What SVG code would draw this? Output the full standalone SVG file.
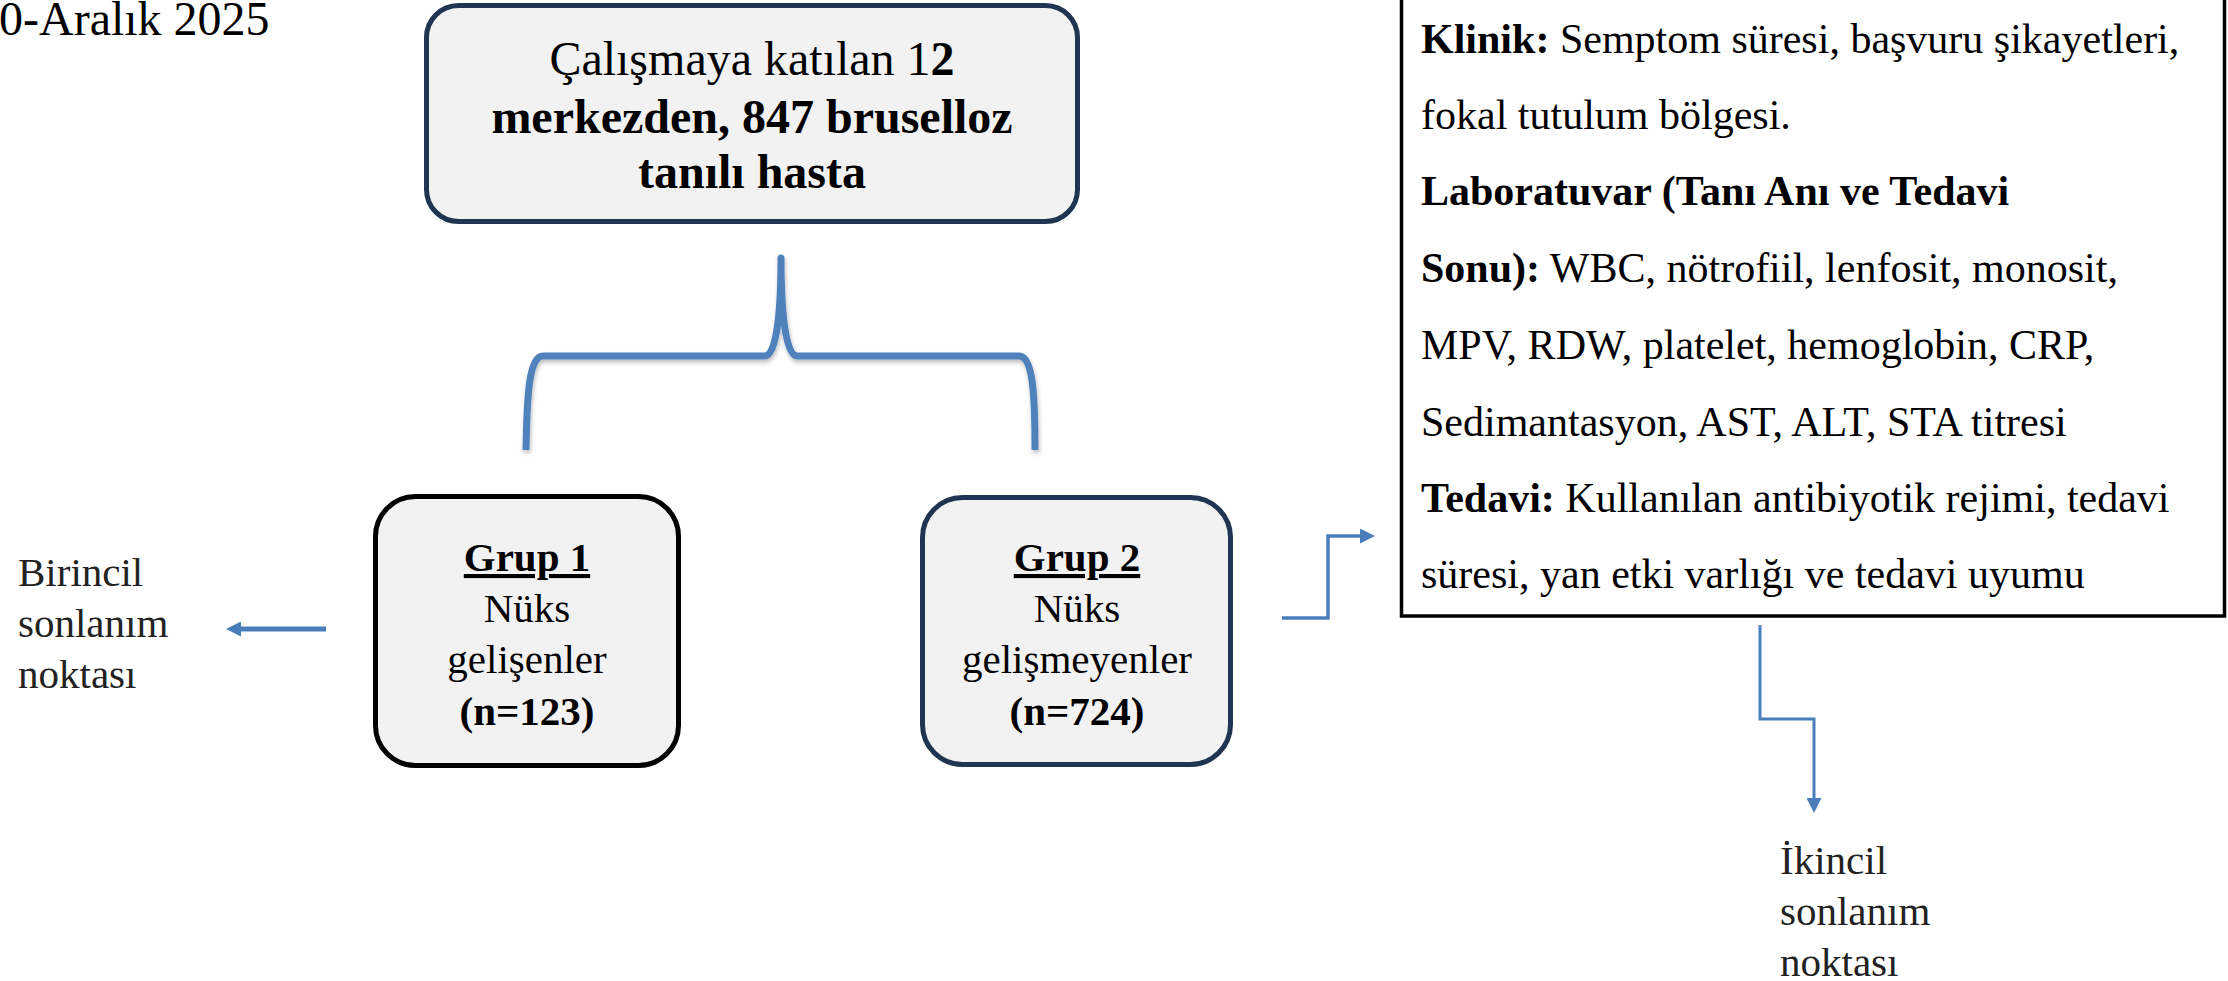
<svg xmlns="http://www.w3.org/2000/svg" width="2228" height="981" viewBox="0 0 2228 981">
<style>
text { font-family: "Liberation Serif", "Times New Roman", serif; fill: #000; }
.t48 { font-size: 48px; }
.t42 { font-size: 42px; }
.t41 { font-size: 41px; }
.b { font-weight: bold; }
.gray { fill: #222222; }
.box { fill: #f2f2f2; stroke-width: 5; }
.navy { stroke: #1f3552; }
.black { stroke: #000; }
.conn { fill: none; stroke: #4a7ebb; }
</style>
<defs>
<marker id="ah" viewBox="0 0 15 15" refX="0" refY="7.5" markerWidth="15" markerHeight="15" markerUnits="userSpaceOnUse" orient="auto">
<path d="M0,0 L15,7.5 L0,15 z" fill="#4a7ebb"/>
</marker>
<filter id="sh" x="-10%" y="-10%" width="120%" height="130%">
<feDropShadow dx="1" dy="3" stdDeviation="2" flood-color="#000" flood-opacity="0.25"/>
</filter>
</defs>
<rect x="0" y="0" width="2228" height="981" fill="#fff"/>

<g id="date">
<text class="t48" x="-1" y="35">0-Aralık 2025</text>
</g>

<g id="top-box">
<rect class="box navy" x="426.5" y="5.5" width="651" height="216" rx="32"/>
<text class="t48" x="752" y="75" text-anchor="middle">Çalışmaya katılan 1<tspan class="b">2</tspan></text>
<text class="t48 b" x="752" y="133" text-anchor="middle">merkezden, 847 bruselloz</text>
<text class="t48 b" x="752" y="188" text-anchor="middle">tanılı hasta</text>
</g>

<g id="grup1">
<rect class="box black" x="375.5" y="496.5" width="303" height="269" rx="40"/>
<text class="t41 b" x="527" y="571" text-anchor="middle" text-decoration="underline">Grup 1</text>
<text class="t41" x="527" y="622" text-anchor="middle">Nüks</text>
<text class="t41" x="527" y="673" text-anchor="middle">gelişenler</text>
<text class="t41 b" x="527" y="725" text-anchor="middle">(n=123)</text>
</g>

<g id="grup2">
<rect class="box navy" x="922.5" y="497.5" width="308" height="267" rx="40"/>
<text class="t41 b" x="1077" y="571" text-anchor="middle" text-decoration="underline">Grup 2</text>
<text class="t41" x="1077" y="622" text-anchor="middle">Nüks</text>
<text class="t41" x="1077" y="673" text-anchor="middle">gelişmeyenler</text>
<text class="t41 b" x="1077" y="725" text-anchor="middle">(n=724)</text>
</g>

<g id="birincil">
<text class="t41 gray" x="18" y="586">Birincil</text>
<text class="t41 gray" x="18" y="637">sonlanım</text>
<text class="t41 gray" x="18" y="688">noktası</text>
</g>

<g id="details-box">
<rect x="1401.5" y="-10" width="823" height="626" fill="#fff" stroke="#000" stroke-width="3.5"/>
<text class="t42" x="1421" y="53"><tspan class="b">Klinik:</tspan> Semptom süresi, başvuru şikayetleri,</text>
<text class="t42" x="1421" y="129">fokal tutulum bölgesi.</text>
<text class="t42 b" x="1421" y="205">Laboratuvar (Tanı Anı ve Tedavi</text>
<text class="t42" x="1421" y="282"><tspan class="b">Sonu):</tspan> WBC, nötrofiil, lenfosit, monosit,</text>
<text class="t42" x="1421" y="359">MPV, RDW, platelet, hemoglobin, CRP,</text>
<text class="t42" x="1421" y="436">Sedimantasyon, AST, ALT, STA titresi</text>
<text class="t42" x="1421" y="512"><tspan class="b">Tedavi:</tspan> Kullanılan antibiyotik rejimi, tedavi</text>
<text class="t42" x="1421" y="588">süresi, yan etki varlığı ve tedavi uyumu</text>
</g>

<g id="ikincil">
<text class="t41 gray" x="1780" y="874">İkincil</text>
<text class="t41 gray" x="1780" y="925">sonlanım</text>
<text class="t41 gray" x="1780" y="976">noktası</text>
</g>

<g id="connectors">
<path d="M526,450 C527,395 529,356 543,356 L765,356 C776,356 781,315 781,258 C781,315 786,356 797,356 L1019,356 C1033,356 1035,395 1035,450" fill="none" stroke="#4f81bd" stroke-width="7" stroke-linecap="butt" stroke-linejoin="round" filter="url(#sh)"/>
<path class="conn" d="M326,629 L241,629" stroke-width="5" marker-end="url(#ah)"/>
<path class="conn" d="M1282,618 L1328,618 L1328,536 L1360,536" stroke-width="3.5" marker-end="url(#ah)"/>
<path class="conn" d="M1760,625 L1760,719 L1814,719 L1814,798" stroke-width="3" marker-end="url(#ah)"/>
</g>
</svg>
